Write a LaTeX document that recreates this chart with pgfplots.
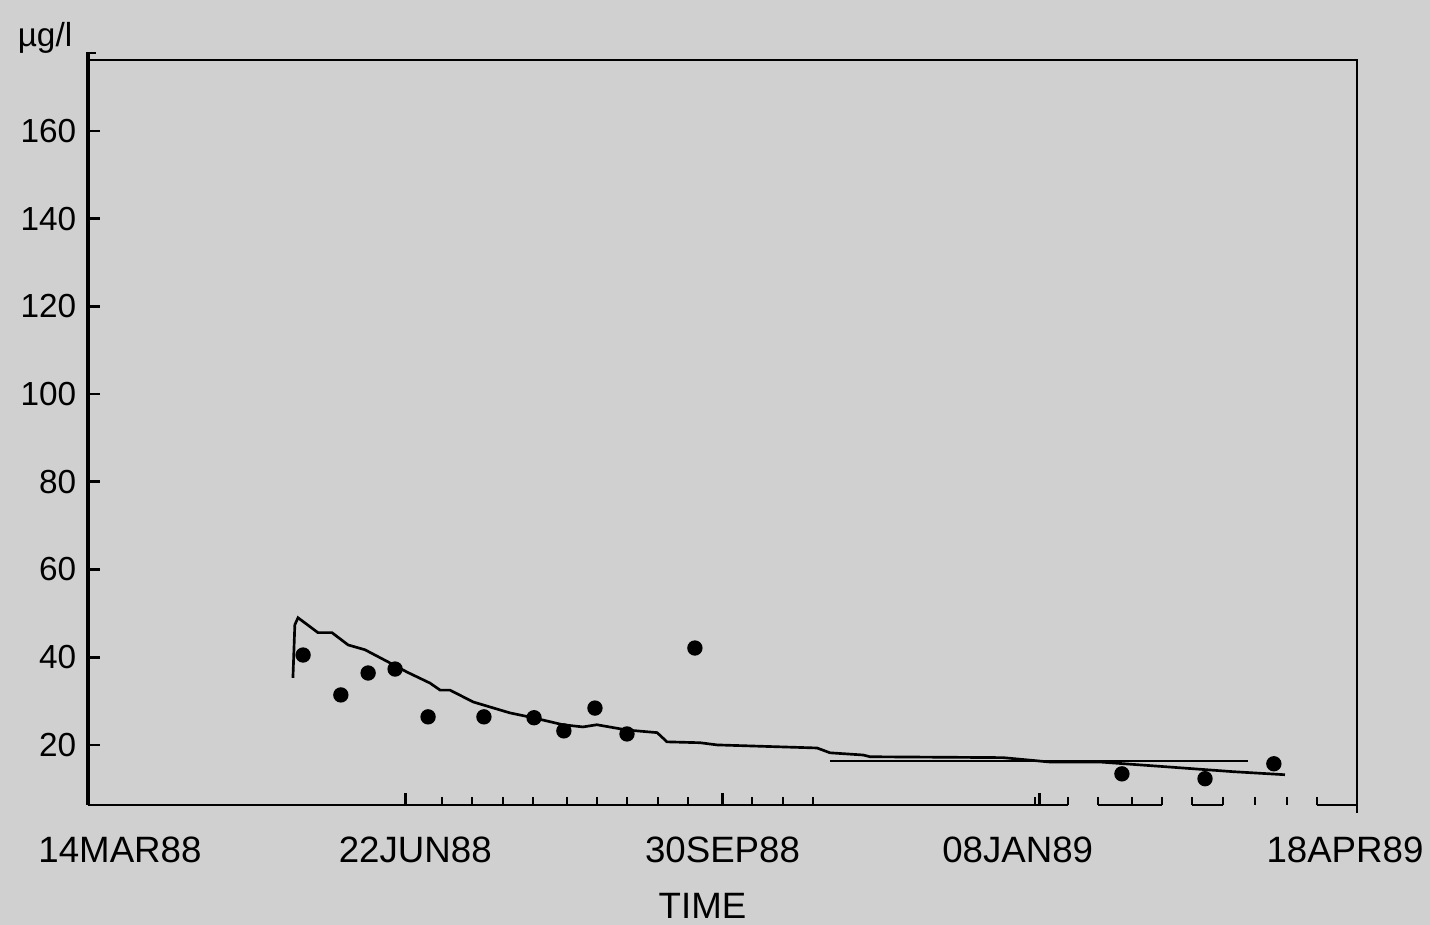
\documentclass[border=0pt]{standalone}
\usepackage{pgfplots}
\pgfplotsset{compat=1.18}
\usepackage{fontspec}
\setmainfont{Liberation Sans}
\definecolor{bg}{RGB}{208,208,208}

\begin{document}
\begin{tikzpicture}
\path[use as bounding box, fill=bg] (-26.4pt,-36pt) rectangle (402.6pt,241.5pt);
\begin{axis}[
  at={(0pt,0pt)}, anchor=south west,
  scale only axis, width=380.7pt, height=223.5pt,
  xmin=0, xmax=400, ymin=6.3, ymax=176.2,
  axis line style={draw=none},
  clip=false,
  xtick={0,100,200,300,400},
  xticklabels={{\hspace*{19.2pt}14MAR88},{\hspace*{6pt}22JUN88},{30SEP88},{08JAN89\hspace*{13.2pt}},{18APR89\hspace*{7.2pt}}},
  minor xtick={111.6,121.0,130.8,140.3,151.0,160.4,169.9,179.7,189.1,209.3,219.1,228.5,298.5,308.9,318.4,329.1,338.5,348.0,357.8,367.8,377.9,387.4},
  ytick={20,40,60,80,100,120,140,160},
  xtick pos=bottom, ytick pos=left,
  tick align=inside,
  major tick length=3.6pt, minor tick length=2.4pt,
  every tick/.style={black, line width=0.8pt},
  /pgf/number format/assume math mode=true,
  yticklabel style={font=\fontsize{10}{12}\selectfont},
  xticklabel style={font=\fontsize{11}{13}\selectfont, yshift=-6pt},
  xlabel={TIME},
  xlabel style={at={(axis description cs:0.5,0)}, anchor=center, xshift=-6pt, yshift=-30.3pt, font=\fontsize{11}{13}\selectfont},
]
% frame
\draw[line width=1.3pt] (axis cs:0,6.3) -- (axis cs:0,178.0);
\draw[line width=0.6pt] (axis cs:0,177.9) -- (axis cs:2.6,177.9);
\draw[line width=0.6pt] (axis cs:0,176.2) -- (axis cs:400,176.2) -- (axis cs:400,4.5);
\draw[line width=0.7pt] (axis cs:0,6.3) -- (axis cs:308.9,6.3);
\draw[line width=0.7pt] (axis cs:318.4,6.3) -- (axis cs:338.5,6.3);
\draw[line width=0.7pt] (axis cs:348.0,6.3) -- (axis cs:357.8,6.3);
\draw[line width=0.7pt] (axis cs:387.4,6.3) -- (axis cs:400,6.3);
\node[font=\fontsize{10}{12}\selectfont, xshift=-12.9pt, yshift=6.6pt] at (rel axis cs:0,1) {µg/l};

% model curve
\addplot[black, line width=0.8pt, mark=none] coordinates {
(64.6,35.3) (65.2,47.4) (66.2,49.0) (72.5,45.6) (76.9,45.6) (82.0,42.8)
(87.3,41.7) (95.2,38.7) (100.6,36.6) (107.8,34.1) (111.0,32.5) (114.1,32.5)
(121.4,29.8) (133.0,27.3) (140.3,26.2) (149.7,24.6) (156.0,24.1) (160.4,24.6)
(169.9,23.4) (179.4,22.8) (182.5,20.7) (192.9,20.5) (198.3,20.0) (229.8,19.3)
(233.9,18.2) (244.3,17.7) (246.5,17.3) (288.4,17.1) (303.2,16.1) (319.0,16.1)
(340.1,15.0) (360.9,13.9) (377.3,13.2)
};
% horizontal line
\addplot[black, line width=0.8pt, mark=none] coordinates {(233.9,16.3) (365.6,16.3)};
% observations
\addplot[only marks, mark=*, mark size=2.1pt, black] coordinates {
(67.8,40.5) (79.7,31.4) (88.3,36.4) (96.8,37.3) (107.2,26.4) (124.8,26.4)
(140.6,26.2) (150.0,23.2) (159.8,28.4) (169.9,22.5) (191.3,42.1)
(325.9,13.4) (352.1,12.3) (373.8,15.7)
};
\end{axis}
\end{tikzpicture}
\end{document}
